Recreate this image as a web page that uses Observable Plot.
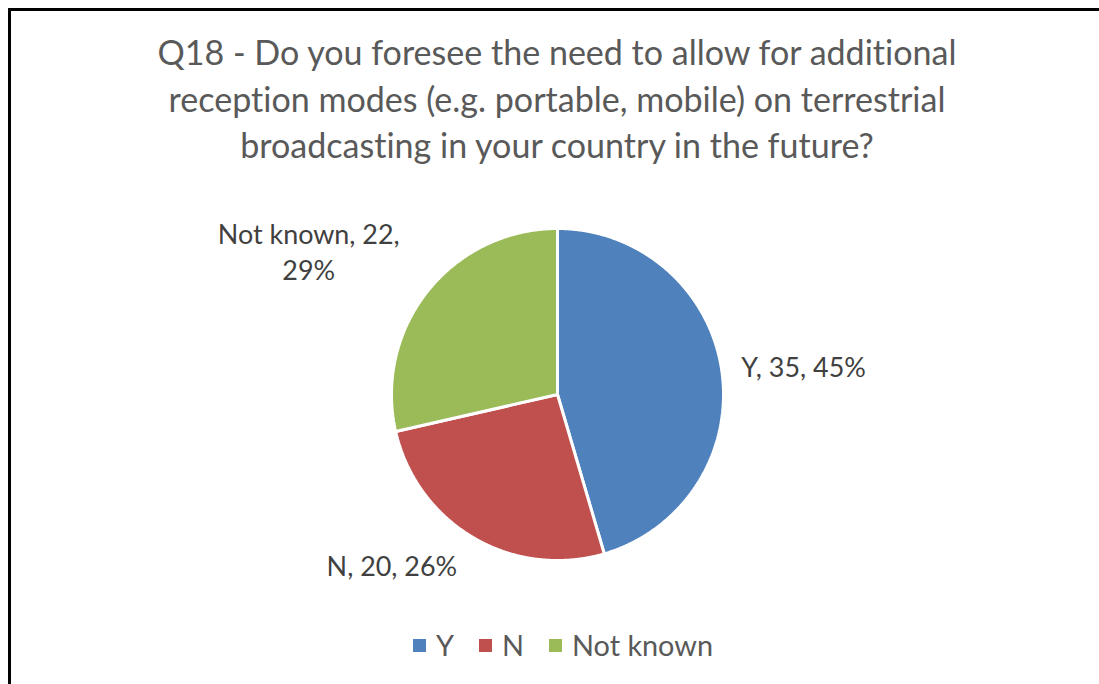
<!DOCTYPE html>
<html>
<head>
<meta charset="utf-8">
<script src="https://cdn.jsdelivr.net/npm/d3@7"></script>
<script src="https://cdn.jsdelivr.net/npm/@observablehq/plot@0.6"></script>
<style>
  html, body { margin: 0; padding: 0; background: #fff; }
  #wrap { position: relative; width: 1099px; height: 684px; overflow: hidden; font-family: Lato, "Open Sans", sans-serif; font-variant-ligatures: none; font-feature-settings: "liga" 0, "clig" 0; }
  #wrap text { font-variant-ligatures: none; font-feature-settings: "liga" 0, "clig" 0; }
  #frame { position: absolute; left: 8px; top: 8px; right: -20px; bottom: -20px; border-left: 3px solid #000; border-top: 3px solid #000; }
  #title { position: absolute; left: 107px; width: 900px; top: 29px; text-align: center; color: #595959; line-height: 46.5px; white-space: nowrap; }
  #legend { position: absolute; left: 413px; top: 628px; display: flex; align-items: center; color: #595959; white-space: nowrap; }
  #legend .item { display: flex; align-items: center; margin-right: 25px; }
  #legend .sw { width: 13px; height: 13px; margin-right: 10px; }
  #chart { position: absolute; left: 0; top: 0; }
</style>
</head>
<body>
<div id="wrap">
  <div id="frame"></div>
  <div id="chart"></div>
  <div id="title"></div>
  <div id="legend"></div>
</div>
<script>
// ---- data ----
const categories = ["Y", "N", "Not known"];
const counts = [35, 20, 22];
const colors = ["#4F81BD", "#C0504D", "#9BBB59"];
const titleLines = [
  "Q18 - Do you foresee the need to allow for additional",
  "reception modes (e.g. portable, mobile) on terrestrial",
  "broadcasting in your country in the future?"
];

// ---- font fitting ----
const FONT = "Lato";
const ctx = document.createElement("canvas").getContext("2d");
function fit(str, target) {
  ctx.font = `100px ${FONT}`;
  return 100 * target / ctx.measureText(str).width;
}
const titleSize = fit(titleLines[0], 802);
const labelSize = fit("Not known, 22,", 182);
const legendSize = fit("Not known", 141);

// ---- title ----
const titleEl = document.getElementById("title");
titleEl.style.fontSize = titleSize + "px";
titleEl.innerHTML = titleLines.map(t => `<div>${t}</div>`).join("");

// ---- legend ----
const legendEl = document.getElementById("legend");
legendEl.style.fontSize = legendSize + "px";
legendEl.innerHTML = categories.map((c, i) =>
  `<div class="item"><div class="sw" style="background:${colors[i]}"></div><span>${c}</span></div>`).join("");

// ---- pie geometry ----
const total = d3.sum(counts);
const data = categories.map((c, i) => ({cat: c, count: counts[i], pct: Math.round(100 * counts[i] / total)}));
const arcs = d3.pie().sort(null).value(d => d.count)(data);

const polys = [];
for (const a of arcs) {
  polys.push({cat: a.data.cat, x: 0, y: 0});
  const n = Math.max(2, Math.ceil((a.endAngle - a.startAngle) / 0.005));
  for (let k = 0; k <= n; k++) {
    const t = a.startAngle + (a.endAngle - a.startAngle) * k / n;
    polys.push({cat: a.data.cat, x: Math.sin(t), y: Math.cos(t)});
  }
  polys.push({cat: a.data.cat, x: 0, y: 0});
}

const labels = arcs.map(a => {
  const m = (a.startAngle + a.endAngle) / 2;
  const d = a.data;
  const text = d.cat === "Not known" ? `${d.cat}, ${d.count},\n${d.pct}%` : `${d.cat}, ${d.count}, ${d.pct}%`;
  return {cat: d.cat, x: 1.1 * Math.sin(m), y: 1.1 * Math.cos(m), text};
});

const cx = 557, cy = 394, R = 166;
const labelStyle = {fontSize: labelSize, fill: "#404040", fontFamily: FONT};

const chart = Plot.plot({
  width: 1099,
  height: 684,
  margin: 0,
  style: {background: "transparent", overflow: "visible"},
  x: {domain: [-1, 1], range: [cx - R, cx + R], axis: null},
  y: {domain: [-1, 1], range: [cy + R, cy - R], axis: null},
  color: {domain: categories, range: colors},
  marks: [
    Plot.line(polys, {x: "x", y: "y", z: "cat", fill: "cat", stroke: "white", strokeWidth: 3, strokeLinejoin: "miter", curve: "linear"}),
    Plot.text(labels.filter(d => d.cat === "Y"), {x: "x", y: "y", text: "text", textAnchor: "start", lineAnchor: "middle", dx: 3, ...labelStyle}),
    Plot.text(labels.filter(d => d.cat === "N"), {x: "x", y: "y", text: "text", textAnchor: "end", lineAnchor: "top", dx: -8, dy: 5, ...labelStyle}),
    Plot.text(labels.filter(d => d.cat === "Not known"), {x: "x", y: "y", text: "text", textAnchor: "middle", lineAnchor: "middle", lineHeight: 36 / labelSize, dx: -106, dy: -30, ...labelStyle})
  ]
});
document.getElementById("chart").appendChild(chart);
</script>
</body>
</html>
